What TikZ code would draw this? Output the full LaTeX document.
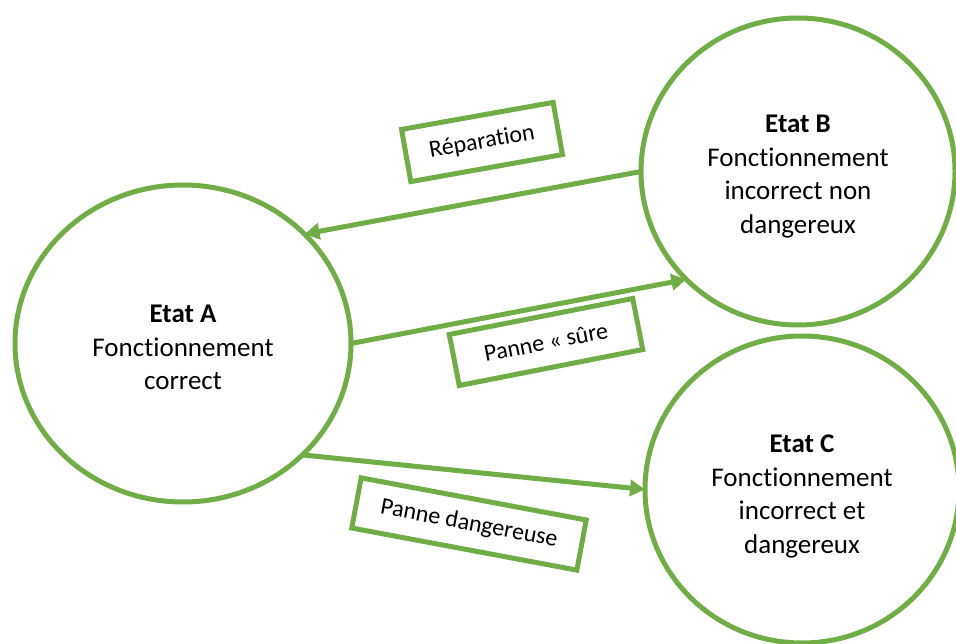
\documentclass[tikz,border=0pt]{standalone}
\usepackage{fontspec}
\setmainfont{Carlito}[Ligatures=NoCommon]
\usetikzlibrary{shapes.geometric,arrows.meta}
\definecolor{leaf}{HTML}{70AD47}
% extra room above the first line pushes a state's text block downwards
\newcommand{\toppad}[1]{\rule{0pt}{#1}}
\begin{document}
\begin{tikzpicture}[x=1pt,y=-1pt,
  state/.style={ellipse, draw=leaf, line width=5pt, inner sep=0pt, outer sep=0pt,
    align=center, font=\fontsize{27}{33.5}\selectfont},
  tag/.style={draw=leaf, line width=5pt, inner sep=0pt, outer sep=0pt,
    font=\fontsize{24}{29}\selectfont},
  flow/.style={draw=leaf, line width=5pt, -{Triangle[length=15pt,width=16pt]}}
]
\useasboundingbox (0,0) rectangle (956,644);

% states
\node[state, minimum width=336pt, minimum height=317pt] (A) at (183,343.5)
  {\toppad{26pt}\textbf{Etat A}\\Fonctionnement\\correct};
\node[state, minimum width=314pt, minimum height=307pt] (B) at (798,171.5)
  {\toppad{28pt}\textbf{Etat B}\\Fonctionnement\\incorrect non\\dangereux};
\node[state, minimum width=314pt, minimum height=307pt] (C) at (802,489.5)
  {\toppad{32pt}\textbf{Etat C}\\Fonctionnement\\incorrect et\\dangereux};

% transitions
\draw[flow] (B.west) -- (A.42.4);
\draw[flow] (A.east) -- (B.224.6);
\draw[flow] (A.-43.1) -- (C.west);

% transition labels
\node[tag, rotate=10.1, minimum width=154pt, minimum height=53pt] (rep) at (482,142)
  {Réparation};
\node[tag, rotate=11.1, minimum width=187pt, minimum height=52pt] (sure) at (546,342)
  {Panne «~sûre\hspace{14pt}};
\node[tag, rotate=-10.6, minimum width=229pt, minimum height=51pt] (dang) at (469,524)
  {Panne dangereuse};
\end{tikzpicture}
\end{document}
